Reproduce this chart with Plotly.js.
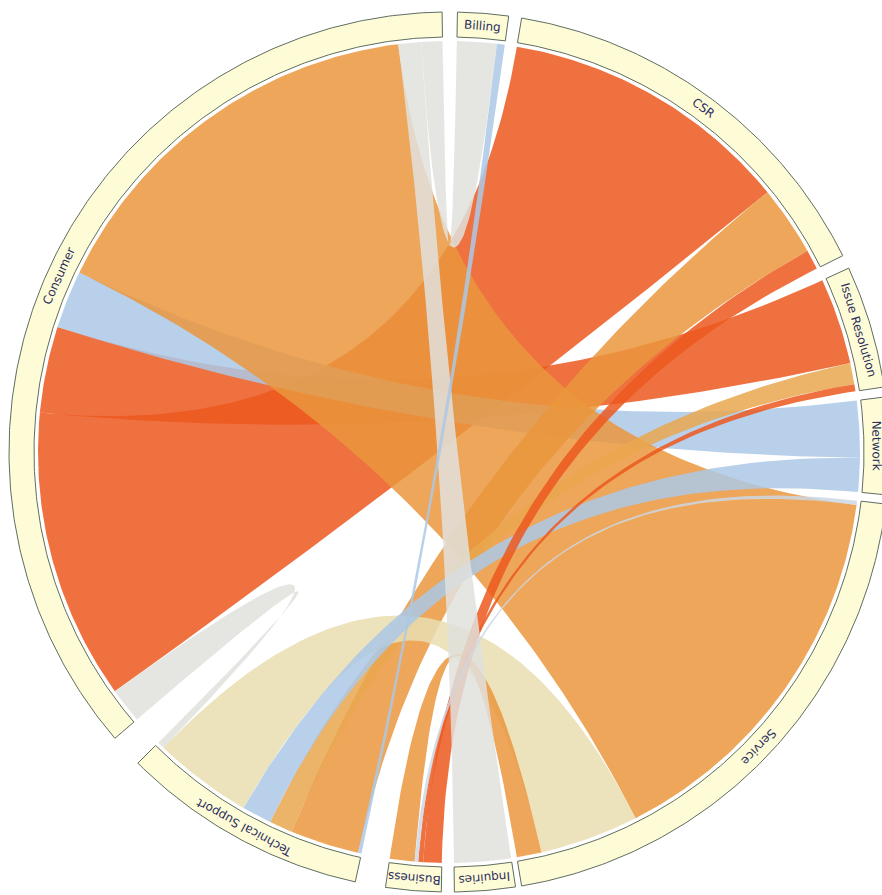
<!DOCTYPE html>
<html><head><meta charset="utf-8">
<script src="https://cdn.plot.ly/plotly-3.0.1.min.js"></script>
<style>html,body{margin:0;padding:0;background:#fff}#chart{width:882px;height:895px}</style>
</head><body><div id="chart"></div>
<script>
// ---------------- data ----------------
const nodes = ['Billing','CSR','Issue Resolution','Network','Service','Inquiries','Business','Technical Support','Consumer'];
// each link: source node, target node, value at source end, value at target end, colour group
const linkSource      = [0,   0,   1,    1,   1,   2,    2,   2,   3,   3,   4,   4,    4,    4,   5,   8];
const linkTarget      = [8,   7,   8,    7,   6,   8,    7,   6,   8,   7,   6,   8,    7,    6,   8,   7];
const linkValueSource = [5.6, 1.1, 41.3, 9.9, 2.8, 12.2, 3.0, 1.0, 8.0, 4.8, 0.6, 55.6, 14.0, 3.5, 8.0, 5.0];
const linkValueTarget = [3.0, 0.5, 41.1, 9.7, 2.6, 12.2, 3.3, 0.7, 8.2, 4.2, 0.5, 57.0, 14.0, 3.5, 3.2, 1.0];
const linkGroup = ['gray','blue','red','orange','red','red','amber','red','blue','blue','pale','orange','beige','orange','gray','gray'];
// clockwise order of link ends around each node
const nodeOrder = [
  [0,1],
  [2,3,4],
  [5,6,7],
  [8,9],
  [10,11,12,13],
  [14],
  [4,7,10,13],
  [1,3,6,9,12,15],
  [15,2,5,8,11,14,0]
];

// ---------------- layout / style ----------------
const W = 882, H = 895;
const cx = 449, cy = 452, rRib = 411, rIn = 415, rOut = 440;
const startAngle = 1.1;
const gapAfter = [1.7,1.8,1.3,1.2,0.8,1.7,4.0,4.4,2.0];
const drawOrder = [2,5,8,11,3,6,12,13,9,4,7,14,0,15,10,1];
const groupColor = {
  red:'rgba(236,88,30,0.85)',
  orange:'rgba(234,151,61,0.85)',
  amber:'rgba(233,167,79,0.85)',
  blue:'rgba(171,200,230,0.85)',
  gray:'rgba(224,224,221,0.85)',
  beige:'rgba(233,222,178,0.85)',
  pale:'rgba(205,215,228,0.85)'
};

function pt(deg, r){ const a = deg*Math.PI/180; return [cx + r*Math.sin(a), cy - r*Math.cos(a)]; }
function arc(a0, a1, r, xs, ys){
  const n = Math.max(2, Math.ceil(Math.abs(a1-a0)*2));
  for(let i=0;i<=n;i++){ const p = pt(a0+(a1-a0)*i/n, r); xs.push(p[0]); ys.push(p[1]); }
}
function quad(p0, p2, xs, ys){
  const n = 80;
  for(let i=0;i<=n;i++){
    const t=i/n, u=1-t;
    xs.push(u*u*p0[0] + 2*u*t*cx + t*t*p2[0]);
    ys.push(u*u*p0[1] + 2*u*t*cy + t*t*p2[1]);
  }
}

// compute node spans and link end angles from the values
let totalVal = 0;
nodeOrder.forEach((ord,i)=>ord.forEach(l=>{ totalVal += (linkSource[l]===i ? linkValueSource[l] : linkValueTarget[l]); }));
const totalGap = gapAfter.reduce((a,b)=>a+b,0);
const k = (360 - totalGap) / totalVal;
const nodeSpan = [];
const endSrc = {}, endTgt = {};
let ang = startAngle;
nodeOrder.forEach((ord,i)=>{
  const s = ang;
  ord.forEach(l=>{
    const isSrc = linkSource[l]===i;
    const v = (isSrc ? linkValueSource[l] : linkValueTarget[l]) * k;
    if(isSrc) endSrc[l] = [ang, ang+v]; else endTgt[l] = [ang, ang+v];
    ang += v;
  });
  nodeSpan.push([s, ang]);
  ang += gapAfter[i];
});

const traces = [];
drawOrder.forEach(l=>{
  const [a0,a1] = endSrc[l], [b0,b1] = endTgt[l];
  const xs=[], ys=[];
  arc(a0,a1,rRib,xs,ys);
  quad(pt(a1,rRib), pt(b0,rRib), xs, ys);
  arc(b0,b1,rRib,xs,ys);
  quad(pt(b1,rRib), pt(a0,rRib), xs, ys);
  traces.push({type:'scatter', mode:'lines', x:xs, y:ys, fill:'toself',
    fillcolor: groupColor[linkGroup[l]], line:{width:0}, hoverinfo:'skip', showlegend:false});
});

const annotations = [];
nodeSpan.forEach(([s,e],i)=>{
  const xs=[], ys=[];
  arc(s,e,rOut,xs,ys);
  arc(e,s,rIn,xs,ys);
  xs.push(xs[0]); ys.push(ys[0]);
  traces.push({type:'scatter', mode:'lines', x:xs, y:ys, fill:'toself',
    fillcolor:'#fdfcd6', line:{color:'#5f6d60', width:1}, hoverinfo:'skip', showlegend:false});
  const m = (s+e)/2;
  const p = pt(m, (rIn+rOut)/2);
  let ta = m; if(ta>180) ta -= 360;
  annotations.push({x:p[0], y:p[1], xref:'x', yref:'y', text:nodes[i], showarrow:false,
    textangle:ta, xanchor:'center', yanchor:'middle',
    font:{family:'DejaVu Sans, Verdana, sans-serif', size:12, color:'#2d2f5e'}});
});

Plotly.newPlot('chart', traces, {
  width:W, height:H, margin:{l:0,r:0,t:0,b:0},
  paper_bgcolor:'#ffffff', plot_bgcolor:'#ffffff',
  xaxis:{range:[0,W], visible:false, fixedrange:true},
  yaxis:{range:[H,0], visible:false, fixedrange:true},
  showlegend:false, hovermode:false, annotations:annotations
}, {displayModeBar:false, staticPlot:true});
</script>
</body></html>
